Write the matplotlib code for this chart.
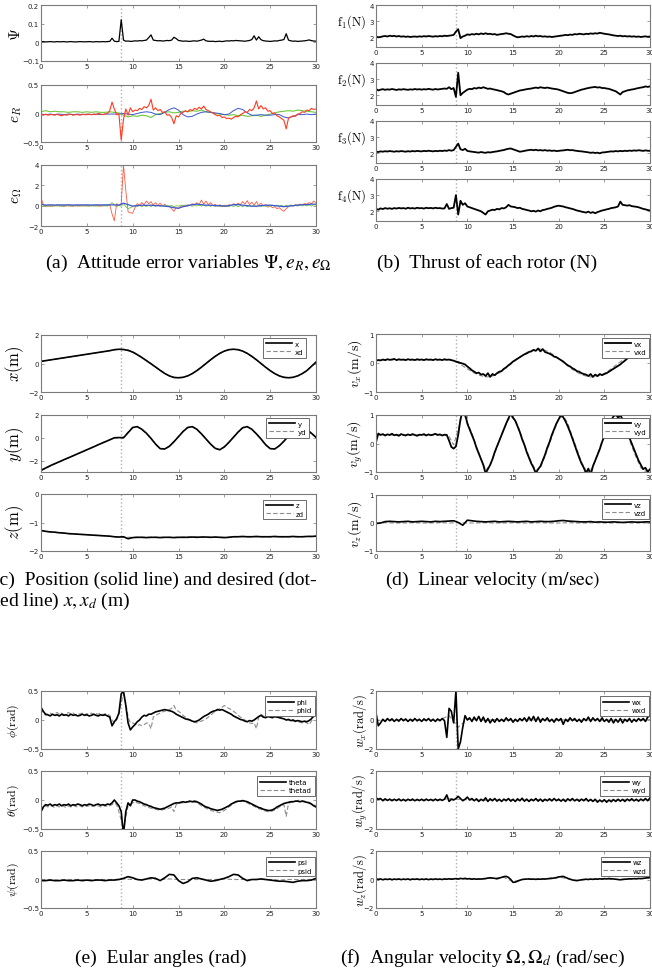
import numpy as np
import matplotlib.pyplot as plt
from matplotlib.ticker import FuncFormatter

plt.rcParams['mathtext.fontset'] = 'cm'
plt.rcParams['font.family'] = 'DejaVu Sans'

T_MARK = 8.75  # dotted vertical line

# ---------------- (a) attitude errors, 0.25 s samples ----------------
psi_err = [0.003,0.004,0.002,0.003,0.004,0.003,0.002,0.004,0.003,0.003,0.004,0.002,0.003,0.004,0.003,0.002,0.003,0.004,0.003,0.003,
           0.003,0.004,0.003,0.002,0.004,0.003,0.003,0.004,0.003,0.004,0.005,0.022,0.006,0.004,0.005,0.121,0.012,0.006,0.007,0.005,
           0.006,0.008,0.007,0.009,0.008,0.01,0.012,0.025,0.04,0.012,0.01,0.008,0.009,0.007,0.008,0.01,0.009,0.012,0.027,0.02,
           0.01,0.008,0.006,0.007,0.006,0.005,0.007,0.008,0.006,0.009,0.012,0.017,0.008,0.006,0.005,0.006,0.004,0.005,0.006,0.004,
           0.006,0.008,0.007,0.009,0.008,0.01,0.009,0.008,0.007,0.006,0.008,0.01,0.015,0.035,0.012,0.03,0.014,0.009,0.007,0.006,
           0.005,0.006,0.008,0.007,0.01,0.012,0.015,0.046,0.012,0.008,0.006,0.007,0.005,0.006,0.007,0.008,0.01,0.013,0.009,0.007,
           0.006]
eR_red = [-0.02,-0.03,-0.01,-0.03,-0.02,-0.02,-0.03,-0.01,-0.03,-0.04,-0.02,-0.03,-0.02,-0.01,-0.03,-0.02,-0.02,-0.03,-0.01,-0.02,
          -0.02,-0.01,-0.02,-0.01,-0.02,0.0,-0.01,-0.02,-0.01,0.0,0.05,0.2,0.08,-0.02,-0.01,-0.47,-0.1,0.08,-0.03,0.1,
          0.03,0.06,0.05,0.09,0.07,0.12,0.1,0.14,0.25,0.06,0.1,0.05,0.07,0.02,0.03,-0.03,-0.02,-0.07,-0.18,-0.04,
          -0.06,0.0,0.02,0.05,0.03,0.07,0.05,0.09,0.07,0.11,0.08,0.13,0.07,0.05,0.03,0.01,-0.02,-0.04,-0.03,-0.07,
          -0.06,-0.09,-0.08,-0.1,-0.07,-0.05,-0.06,-0.02,0.0,0.03,0.02,0.07,0.05,0.1,0.22,0.08,0.14,0.08,0.1,0.04,
          0.05,0.0,0.01,-0.04,-0.06,-0.09,-0.12,-0.27,-0.08,-0.06,-0.04,-0.05,-0.01,0.0,0.03,0.02,0.06,0.05,0.09,0.07,
          0.08]
eW_red = [0.8,0.1,-0.1,0.05,-0.08,0.06,-0.05,0.08,-0.06,0.05,-0.1,0.07,-0.04,0.06,-0.08,0.05,-0.06,0.04,-0.05,0.07,
          -0.06,0.05,-0.04,0.07,-0.05,0.06,-0.07,0.05,-0.04,0.06,0.1,-0.8,-1.5,0.2,0.0,0.2,4.0,1.5,-0.6,-0.7,
          -0.75,-0.2,0.2,0.05,0.3,0.1,0.45,0.2,0.4,0.05,0.3,0.0,0.25,-0.05,0.15,-0.1,-0.05,-0.3,-0.55,-0.2,
          -0.3,-0.05,0.05,-0.1,0.1,0.0,0.2,0.05,0.3,0.1,0.55,0.15,0.45,0.1,0.3,0.0,0.15,-0.05,0.1,-0.1,
          0.05,-0.1,0.1,0.0,0.2,0.05,0.25,0.1,0.4,0.15,0.5,0.1,0.35,0.05,0.4,0.0,0.25,-0.05,0.1,-0.15,
          0.0,-0.2,-0.1,-0.3,-0.2,-0.4,-0.55,-0.3,-0.1,0.05,-0.05,0.1,0.05,0.15,0.1,0.2,0.15,0.3,0.2,0.45,
          0.3]
eW_green = [0.05,-0.1,0.05,-0.08,0.04,-0.1,0.06,-0.05,0.03,-0.08,0.05,-0.06,0.04,-0.09,0.06,-0.05,0.03,-0.07,0.05,-0.06,
            0.04,-0.08,0.05,-0.06,0.03,-0.07,0.05,-0.05,0.04,-0.06,0.1,0.3,0.1,-0.1,0.05,-0.05,0.2,-0.1,-0.3,-0.2,
            -0.1,0.05,-0.08,0.04,-0.1,0.03,-0.09,0.05,-0.1,0.04,-0.07,0.05,-0.08,0.04,-0.06,0.05,-0.05,0.03,-0.12,0.0,
            -0.05,0.05,-0.06,0.07,-0.05,0.06,-0.07,0.08,-0.04,0.06,-0.05,0.07,-0.06,0.05,-0.08,0.04,-0.07,0.05,-0.09,0.03,
            -0.08,0.05,-0.1,0.03,-0.09,0.04,-0.12,0.02,-0.1,0.03,-0.11,0.04,-0.09,0.02,-0.12,0.03,-0.1,0.04,-0.08,0.05,
            -0.07,0.06,-0.05,0.07,-0.06,0.05,-0.08,0.04,-0.06,0.07,-0.04,0.08,-0.05,0.06,-0.04,0.09,-0.03,0.08,-0.05,0.1,
            0.05]
# 0.5 s samples
eR_green = [0.03,0.05,0.03,0.04,0.03,0.03,0.02,0.03,0.03,0.02,0.03,0.02,0.03,0.02,0.02,0.03,0.02,0.01,-0.03,-0.06,
            -0.04,-0.05,-0.03,-0.04,-0.07,-0.02,0.0,0.02,0.03,0.01,0.02,0.04,0.03,0.05,0.04,0.06,0.03,0.02,0.0,-0.01,
            -0.02,-0.03,-0.02,-0.04,-0.03,-0.05,-0.04,-0.03,-0.05,-0.03,-0.01,0.01,0.03,0.04,0.05,0.04,0.06,0.05,0.04,0.03,
            0.02]
eR_blue = [-0.01,-0.02,-0.01,-0.02,-0.01,-0.02,-0.01,-0.02,-0.01,-0.02,-0.01,-0.02,-0.01,-0.02,-0.01,-0.01,-0.01,-0.01,0.0,-0.01,
           -0.02,0.0,0.02,0.03,0.02,-0.01,-0.02,0.02,0.07,0.1,0.06,-0.02,-0.06,-0.05,-0.01,0.02,0.03,0.02,0.01,0.0,
           -0.02,-0.01,0.05,0.09,0.07,0.01,-0.03,-0.03,-0.02,-0.03,-0.03,-0.02,-0.02,-0.06,-0.08,-0.05,-0.02,-0.02,-0.01,-0.02,
           -0.01]
eW_blue = [0.15,0.05,0.08,0.06,0.08,0.07,0.08,0.06,0.08,0.07,0.08,0.06,0.08,0.07,0.08,0.07,0.08,0.05,0.25,0.1,
           -0.05,0.0,0.05,0.03,0.05,0.0,0.0,-0.05,-0.1,-0.2,-0.25,-0.1,0.0,0.1,0.15,0.1,0.05,0.05,0.0,0.0,
           -0.05,0.0,0.1,0.1,0.05,0.0,-0.05,-0.05,0.0,0.05,0.05,0.0,-0.05,-0.1,-0.05,0.0,0.05,0.1,0.1,0.15,
           0.15]

# ---------------- (b) rotor thrust, 0.25 s samples ----------------
f1 = [2.05,2.0,2.02,2.06,2.08,2.05,2.1,2.07,2.09,2.05,2.08,2.04,2.06,2.03,2.05,2.02,2.04,2.05,2.03,2.06,
      2.04,2.07,2.05,2.08,2.06,2.04,2.07,2.05,2.08,2.06,2.1,2.08,2.1,2.12,2.15,2.35,2.5,1.95,2.05,2.1,
      2.18,2.15,2.2,2.17,2.22,2.18,2.24,2.2,2.25,2.2,2.22,2.18,2.2,2.15,2.18,2.2,2.22,2.25,2.22,2.2,
      2.12,2.05,2.0,2.02,2.05,2.03,2.07,2.04,2.08,2.05,2.1,2.06,2.08,2.04,2.06,2.03,2.05,2.02,2.04,2.06,
      2.08,2.1,2.12,2.15,2.13,2.17,2.15,2.2,2.18,2.22,2.2,2.18,2.22,2.2,2.24,2.22,2.25,2.23,2.28,2.25,
      2.22,2.2,2.18,2.15,2.12,2.1,2.08,2.1,2.06,2.08,2.05,2.07,2.04,2.06,2.03,2.05,2.02,2.04,2.06,2.03,
      2.05]
f2 = [2.4,2.3,2.35,2.38,2.34,2.37,2.35,2.39,2.36,2.33,2.37,2.35,2.38,2.36,2.34,2.37,2.35,2.39,2.36,2.38,
      2.35,2.38,2.36,2.4,2.37,2.35,2.39,2.36,2.38,2.4,2.42,2.4,2.5,2.38,2.45,1.9,3.4,2.0,2.15,2.25,
      2.35,2.4,2.38,2.45,2.42,2.48,2.44,2.5,2.45,2.4,2.42,2.38,2.35,2.32,2.28,2.25,2.2,2.1,2.05,2.1,
      2.15,2.2,2.25,2.3,2.32,2.35,2.38,2.4,2.42,2.45,2.48,2.45,2.5,2.47,2.45,2.48,2.45,2.42,2.4,2.38,
      2.35,2.3,2.25,2.2,2.15,2.13,2.15,2.2,2.25,2.3,2.35,2.38,2.42,2.45,2.48,2.5,2.52,2.48,2.5,2.45,
      2.45,2.42,2.4,2.35,2.3,2.25,2.15,2.05,2.2,2.25,2.3,2.33,2.36,2.38,2.42,2.45,2.48,2.5,2.55,2.52,
      2.55]
f3 = [2.1,2.08,2.12,2.1,2.13,2.11,2.14,2.12,2.1,2.13,2.11,2.14,2.12,2.1,2.13,2.11,2.14,2.12,2.15,2.13,
      2.12,2.15,2.13,2.16,2.14,2.12,2.15,2.13,2.16,2.14,2.17,2.15,2.2,2.16,2.2,2.4,2.6,2.25,2.2,2.28,
      2.15,2.12,2.1,2.08,2.06,2.04,2.08,2.05,2.03,2.07,2.05,2.08,2.1,2.12,2.15,2.18,2.2,2.25,2.28,2.3,
      2.25,2.2,2.15,2.1,2.12,2.15,2.18,2.2,2.22,2.19,2.22,2.18,2.2,2.17,2.2,2.16,2.18,2.15,2.17,2.14,
      2.15,2.17,2.18,2.2,2.22,2.19,2.2,2.17,2.15,2.13,2.12,2.1,2.08,2.06,2.03,2.05,2.02,2.04,2.0,2.05,
      2.06,2.08,2.1,2.12,2.11,2.14,2.12,2.15,2.13,2.16,2.14,2.17,2.15,2.18,2.16,2.19,2.17,2.15,2.18,2.16,
      2.15]
f4 = [2.15,2.1,2.18,2.14,2.2,2.16,2.19,2.15,2.2,2.17,2.21,2.18,2.2,2.16,2.22,2.18,2.2,2.17,2.22,2.19,
      2.2,2.17,2.22,2.19,2.21,2.18,2.22,2.19,2.2,2.17,2.18,2.45,2.15,2.2,2.22,3.0,1.8,2.65,2.4,2.5,
      2.3,2.25,2.2,2.15,2.1,2.05,2.0,1.9,1.8,2.0,2.05,2.1,2.08,2.15,2.12,2.2,2.18,2.25,2.4,2.3,
      2.28,2.25,2.2,2.22,2.15,2.12,2.08,2.05,2.0,2.03,1.98,2.05,2.0,2.08,2.1,2.15,2.18,2.22,2.28,2.32,
      2.35,2.32,2.3,2.25,2.22,2.18,2.15,2.1,2.05,2.02,1.98,1.95,1.92,1.98,1.9,1.95,1.88,1.95,2.0,2.05,
      2.08,2.12,2.15,2.2,2.22,2.25,2.3,2.6,2.4,2.38,2.35,2.38,2.32,2.3,2.28,2.25,2.2,2.15,2.12,2.08,
      2.05]

# ---------------- (c) position, 0.5 s samples ----------------
pos_x = [0.15,0.2,0.25,0.3,0.35,0.4,0.45,0.5,0.55,0.6,0.65,0.7,0.75,0.8,0.85,0.9,0.97,1.0,0.98,0.92,
         0.8,0.62,0.42,0.2,-0.02,-0.25,-0.48,-0.7,-0.87,-0.98,-1.0,-0.97,-0.87,-0.71,-0.5,-0.26,0.0,0.26,0.5,0.71,
         0.87,0.97,1.0,0.97,0.87,0.71,0.5,0.26,0.0,-0.26,-0.5,-0.71,-0.87,-0.97,-1.0,-0.97,-0.87,-0.71,-0.5,-0.2,
         0.1]
pos_xd = [0.15,0.2,0.25,0.3,0.35,0.4,0.45,0.5,0.55,0.6,0.65,0.7,0.75,0.8,0.85,0.9,0.95,1.0,1.0,0.95,
          0.83,0.65,0.44,0.22,0.0,-0.24,-0.47,-0.69,-0.86,-0.97,-1.0,-0.97,-0.87,-0.71,-0.5,-0.26,0.0,0.26,0.5,0.71,
          0.87,0.97,1.0,0.97,0.87,0.71,0.5,0.26,0.0,-0.26,-0.5,-0.71,-0.87,-0.97,-1.0,-0.97,-0.87,-0.71,-0.5,-0.22,
          0.08]
pos_y = [-2.85,-2.65,-2.45,-2.27,-2.1,-1.92,-1.75,-1.58,-1.4,-1.23,-1.05,-0.88,-0.7,-0.52,-0.35,-0.18,0.0,0.02,0.0,0.45,
         0.9,0.98,0.75,0.4,-0.05,-0.55,-0.95,-0.98,-0.75,-0.35,0.1,0.55,0.9,0.98,0.75,0.35,-0.1,-0.55,-0.92,-1.05,
         -0.8,-0.4,0.05,0.5,0.88,0.98,0.75,0.35,-0.1,-0.6,-0.95,-0.98,-0.7,-0.3,0.15,0.6,0.92,0.98,0.75,0.4,
         0.05]
pos_yd = [-2.9,-2.7,-2.5,-2.3,-2.12,-1.94,-1.76,-1.58,-1.4,-1.22,-1.04,-0.86,-0.68,-0.5,-0.33,-0.16,0.0,0.0,0.05,0.5,
          0.92,0.98,0.72,0.36,-0.08,-0.58,-0.96,-0.97,-0.72,-0.32,0.12,0.58,0.92,0.97,0.72,0.32,-0.12,-0.58,-0.94,-1.03,
          -0.78,-0.38,0.08,0.52,0.9,0.97,0.72,0.32,-0.12,-0.62,-0.96,-0.97,-0.68,-0.28,0.18,0.62,0.93,0.97,0.72,0.36,
          0.02]
pos_z = [-1.28,-1.31,-1.33,-1.34,-1.36,-1.37,-1.39,-1.4,-1.41,-1.42,-1.43,-1.44,-1.45,-1.46,-1.47,-1.48,-1.5,-1.51,-1.5,-1.57,
         -1.53,-1.52,-1.52,-1.53,-1.52,-1.52,-1.53,-1.52,-1.52,-1.53,-1.52,-1.52,-1.52,-1.51,-1.52,-1.51,-1.51,-1.52,-1.51,-1.52,
         -1.53,-1.52,-1.5,-1.5,-1.49,-1.5,-1.5,-1.49,-1.5,-1.5,-1.5,-1.49,-1.5,-1.5,-1.5,-1.49,-1.5,-1.5,-1.49,-1.49,
         -1.48]
# 1 s samples
pos_zd = [-1.28,-1.33,-1.36,-1.39,-1.41,-1.43,-1.45,-1.47,-1.5,-1.52,-1.52,-1.52,-1.52,-1.52,-1.52,-1.52,
          -1.51,-1.51,-1.52,-1.52,-1.52,-1.5,-1.5,-1.5,-1.5,-1.5,-1.5,-1.5,-1.5,-1.49,-1.48]

# ---------------- (d) linear velocity ----------------
vel_x = [0.08,0.1,0.09,0.12,0.1,0.13,0.11,0.12,0.14,0.1,0.13,0.11,0.12,0.1,0.13,0.11,0.12,0.1,0.13,0.11,
         0.12,0.1,0.13,0.11,0.12,0.1,0.13,0.11,0.12,0.1,0.13,0.11,0.12,0.1,0.08,0.05,0.03,0.0,-0.02,-0.05,
         -0.12,-0.18,-0.25,-0.3,-0.35,-0.33,-0.4,-0.38,-0.45,-0.35,-0.48,-0.38,-0.42,-0.35,-0.3,-0.28,-0.2,-0.15,-0.08,-0.02,
         0.05,0.1,0.15,0.2,0.25,0.3,0.33,0.38,0.4,0.45,0.42,0.5,0.4,0.48,0.38,0.35,0.32,0.28,0.22,0.2,
         0.15,0.1,0.05,-0.02,-0.08,-0.12,-0.18,-0.22,-0.28,-0.3,-0.35,-0.38,-0.4,-0.45,-0.38,-0.48,-0.4,-0.45,-0.38,-0.42,
         -0.38,-0.35,-0.3,-0.25,-0.2,-0.15,-0.1,-0.05,0.02,0.08,0.15,0.2,0.25,0.3,0.33,0.36,0.4,0.42,0.45,0.46,
         0.45]
vel_y = [0.05,0.35,0.3,0.33,0.28,0.32,0.3,0.34,0.29,0.31,0.27,0.33,0.3,0.28,0.32,0.29,0.33,0.3,0.27,0.31,
         0.3,0.33,0.28,0.32,0.29,0.31,0.34,0.3,0.32,0.28,0.31,0.3,0.1,-0.12,-0.18,-0.1,0.3,0.85,1.15,1.05,
         0.7,0.5,0.3,0.1,-0.15,-0.35,-0.55,-0.75,-1.05,-0.9,-0.75,-0.55,-0.3,-0.1,0.1,0.3,0.5,0.7,0.88,1.05,
         0.9,0.8,0.6,0.4,0.15,-0.05,-0.3,-0.5,-0.7,-0.85,-1.05,-0.9,-0.8,-0.6,-0.4,-0.15,0.05,0.3,0.5,0.7,
         0.85,1.0,0.92,0.78,0.6,0.4,0.18,-0.05,-0.28,-0.5,-0.7,-0.85,-1.05,-0.88,-1.1,-0.8,-0.6,-0.4,-0.2,0.05,
         0.25,0.45,0.65,0.82,0.95,1.05,0.9,1.0,0.85,0.65,0.45,0.2,0.0,-0.2,-0.4,-0.6,-0.75,-0.9,-0.85,-1.0,
         -0.9]
vel_xd = [0.1,0.1,0.1,0.11,0.11,0.11,0.11,0.11,0.11,0.11,0.11,0.11,0.11,0.11,0.11,0.11,0.1,0.08,0.0,-0.1,
          -0.2,-0.3,-0.38,-0.44,-0.48,-0.47,-0.42,-0.34,-0.22,-0.1,0.02,0.15,0.26,0.36,0.43,0.48,0.48,0.44,0.37,0.27,
          0.15,0.03,-0.1,-0.22,-0.32,-0.4,-0.45,-0.48,-0.47,-0.43,-0.36,-0.26,-0.14,-0.02,0.1,0.22,0.32,0.4,0.45,0.48,
          0.47]
vel_yd = [0.3,0.3,0.3,0.3,0.3,0.3,0.3,0.3,0.3,0.3,0.3,0.3,0.3,0.3,0.3,0.3,0.25,-0.05,0.5,1.1,
          0.75,0.35,-0.1,-0.55,-0.95,-0.75,-0.35,0.1,0.5,0.85,0.95,0.65,0.2,-0.25,-0.65,-0.95,-0.85,-0.45,0.0,0.45,
          0.85,0.98,0.7,0.25,-0.2,-0.65,-0.95,-0.95,-0.6,-0.15,0.3,0.7,0.95,0.98,0.75,0.35,-0.1,-0.5,-0.85,-0.98,
          -0.9]
vel_z = [-0.02,0.0,0.05,0.06,0.05,0.04,0.05,0.06,0.04,0.05,0.06,0.05,0.04,0.06,0.05,0.06,0.07,0.08,0.02,-0.08,
         0.1,0.08,0.06,0.05,0.04,0.05,0.06,0.04,0.05,0.06,0.05,0.04,0.05,0.06,0.04,0.05,0.06,0.05,0.05,0.06,
         0.08,0.09,0.07,0.06,0.05,0.04,0.04,0.05,0.03,0.04,0.03,0.03,0.04,0.03,0.02,0.03,0.04,0.03,0.03,0.04,
         0.04]
vel_zd = [0.0,0.01,0.0,0.0,0.01,0.0,0.0,0.01,0.0,0.01,0.0,0.0,0.01,0.0,0.0,0.01,
          0.0,0.0,0.01,0.0,0.0,0.01,0.0,0.0,0.01,0.0,0.0,0.01,0.0,0.0,0.01]

# ---------------- (e) Euler angles ----------------
phi = [0.22,0.15,0.1,0.09,0.07,0.1,0.08,0.09,0.07,0.1,0.08,0.09,0.07,0.1,0.08,0.09,0.07,0.08,0.1,0.08,
       0.09,0.07,0.08,0.1,0.08,0.07,0.09,0.08,0.09,0.07,0.05,-0.1,-0.03,0.02,0.12,0.45,0.5,0.25,-0.05,-0.17,
       -0.12,-0.08,-0.03,0.0,0.05,0.08,0.07,0.1,0.1,0.12,0.14,0.15,0.16,0.17,0.18,0.17,0.16,0.15,0.13,0.1,
       0.08,0.06,0.04,0.02,0.01,0.0,-0.02,-0.03,-0.02,0.0,0.03,0.06,0.08,0.1,0.13,0.15,0.16,0.18,0.17,0.18,
       0.16,0.14,0.12,0.1,0.07,0.05,0.03,0.01,0.0,-0.02,-0.03,-0.01,-0.02,0.0,0.03,0.06,0.08,0.05,0.04,0.06,
       0.05,0.04,0.06,0.05,0.04,0.03,0.02,0.0,0.01,-0.01,0.0,-0.02,-0.01,-0.02,-0.03,-0.02,-0.03,-0.01,0.02,0.08,
       0.15]
phid = [0.2,0.12,0.08,0.1,0.12,0.09,0.11,0.13,0.1,0.12,0.09,0.11,0.13,0.1,0.12,0.09,0.11,0.1,0.12,0.09,
        0.11,0.1,0.12,0.09,0.11,0.1,0.12,0.09,0.11,0.1,0.08,0.0,-0.05,0.0,0.1,0.3,0.45,0.3,0.05,-0.05,
        -0.05,-0.07,-0.1,-0.08,-0.1,-0.08,-0.05,-0.06,-0.15,0.05,0.08,0.1,0.12,0.14,0.15,0.17,0.18,0.2,0.25,0.17,
        0.15,0.12,0.08,0.05,0.03,0.0,-0.02,-0.04,-0.05,-0.03,-0.02,0.0,0.02,0.05,0.08,0.12,0.14,0.17,0.2,0.22,
        0.25,0.22,0.2,0.18,0.15,0.12,0.08,0.05,0.03,0.0,-0.03,-0.05,-0.06,-0.05,-0.15,0.05,0.1,0.07,0.05,0.06,
        0.06,0.05,0.06,0.04,0.05,0.03,0.02,0.01,0.0,-0.01,-0.02,-0.03,-0.02,-0.04,-0.05,-0.03,-0.05,-0.08,-0.02,0.05,
        0.12]
theta = [-0.2,-0.12,-0.08,-0.09,-0.07,-0.1,-0.08,-0.09,-0.07,-0.1,-0.08,-0.09,-0.07,-0.1,-0.08,-0.09,-0.07,-0.08,-0.1,-0.08,
         -0.09,-0.07,-0.08,-0.1,-0.08,-0.07,-0.09,-0.08,-0.09,-0.07,-0.08,-0.05,0.0,-0.05,-0.1,-0.2,-0.6,-0.2,-0.05,-0.1,
         0.0,0.0,-0.02,-0.03,-0.05,-0.07,-0.08,-0.1,-0.11,-0.13,-0.14,-0.15,-0.16,-0.15,-0.14,-0.12,-0.1,-0.08,-0.06,-0.05,
         -0.05,-0.04,-0.03,-0.04,-0.03,-0.02,-0.03,-0.02,-0.03,-0.05,-0.07,-0.1,-0.12,-0.13,-0.15,-0.16,-0.17,-0.18,-0.17,-0.16,
         -0.14,-0.12,-0.1,-0.07,-0.05,-0.03,-0.02,-0.02,-0.01,-0.02,-0.03,-0.05,-0.07,-0.09,-0.11,-0.13,-0.14,-0.16,-0.17,-0.18,
         -0.18,-0.17,-0.15,-0.12,-0.1,-0.08,-0.06,-0.05,-0.04,-0.03,-0.03,-0.02,-0.02,-0.03,-0.02,-0.03,-0.04,-0.05,-0.07,-0.1,
         -0.12]
thetad = [-0.2,-0.14,-0.1,-0.12,-0.09,-0.11,-0.13,-0.1,-0.12,-0.09,-0.11,-0.13,-0.1,-0.12,-0.09,-0.11,-0.12,-0.1,-0.12,-0.1,
          -0.11,-0.1,-0.12,-0.09,-0.11,-0.1,-0.12,-0.09,-0.11,-0.1,-0.1,-0.08,-0.05,-0.08,-0.2,-0.35,-0.5,-0.3,-0.1,-0.08,
          -0.05,-0.03,-0.05,-0.06,-0.08,-0.1,-0.11,-0.13,-0.14,-0.15,-0.16,-0.17,-0.18,-0.17,-0.16,-0.15,-0.14,-0.12,-0.2,-0.08,
          -0.07,-0.05,-0.05,-0.04,-0.03,-0.04,-0.03,-0.04,-0.05,-0.07,-0.1,-0.12,-0.14,-0.16,-0.18,-0.19,-0.2,-0.21,-0.22,-0.2,
          -0.18,-0.15,-0.12,-0.09,-0.06,-0.04,-0.03,-0.02,-0.02,-0.03,-0.05,-0.07,-0.09,-0.11,-0.13,-0.15,-0.16,-0.18,-0.19,-0.2,
          -0.2,-0.19,-0.17,-0.15,-0.12,-0.1,-0.08,-0.28,-0.06,-0.04,-0.03,-0.02,-0.01,0.0,-0.01,-0.02,-0.03,-0.04,-0.06,-0.08,
          -0.1]
psi = [-0.02,-0.02,-0.01,-0.02,-0.02,-0.01,-0.02,-0.02,-0.01,-0.02,-0.01,-0.02,-0.01,-0.01,-0.02,-0.01,-0.01,0.0,0.02,0.05,
       0.03,0.0,-0.01,0.01,0.03,0.02,-0.02,0.03,0.09,0.08,-0.02,-0.07,-0.04,0.02,0.03,0.01,-0.01,-0.03,-0.02,0.0,
       0.02,0.05,0.09,0.08,0.02,-0.02,0.0,0.0,0.01,0.0,-0.01,-0.02,-0.03,-0.03,-0.04,-0.05,-0.03,-0.02,-0.02,-0.01,
       0.02]
psid = [0.0,0.0,-0.01,0.0,0.0,-0.01,0.0,0.0,0.0,0.01,0.0,0.0,0.01,0.0,0.01,0.0,
        0.0,0.0,0.0,0.0,0.01,0.0,0.0,0.0,0.0,0.0,-0.01,0.0,0.0,0.0,0.0]

# ---------------- (f) angular velocity ----------------
wx = [0.5,-0.4,-0.2,0.05,-0.1,0.1,-0.05,0.08,-0.1,0.05,-0.08,0.1,-0.05,0.07,-0.1,0.05,-0.08,0.1,-0.06,0.05,
      -0.1,0.08,-0.05,0.1,-0.08,0.05,-0.1,0.07,-0.05,0.1,-0.05,-1.2,0.8,0.6,-0.2,2.0,-2.0,-1.5,-0.5,0.3,
      0.0,0.15,-0.1,0.2,-0.05,0.25,-0.1,0.2,-0.15,0.1,-0.2,0.05,-0.15,0.1,-0.1,0.05,-0.1,0.15,-0.05,0.1,
      -0.15,0.05,-0.1,0.1,-0.05,0.15,-0.1,0.2,-0.05,0.25,-0.1,0.2,-0.15,0.1,-0.05,0.15,-0.1,0.05,-0.15,0.1,
      -0.05,0.1,-0.3,0.05,-0.1,0.15,-0.05,0.1,-0.1,0.05,-0.15,0.1,-0.05,0.2,-0.1,0.15,-0.05,0.1,-0.1,0.15,
      -0.1,0.05,-0.15,0.1,-0.2,0.05,-0.15,0.1,-0.2,0.05,-0.1,0.1,-0.15,0.05,-0.1,0.1,-0.05,0.1,-0.1,0.2,
      0.3]
wy = [0.15,0.05,0.1,-0.05,0.08,-0.03,0.06,-0.05,0.05,-0.04,0.07,-0.05,0.04,-0.06,0.05,-0.03,0.06,-0.05,0.04,-0.04,
      0.05,-0.05,0.06,-0.03,0.04,-0.05,0.06,-0.04,0.05,-0.03,0.06,0.35,-0.1,0.05,0.0,0.1,0.25,0.1,-0.05,0.05,
      0.2,0.0,0.1,-0.05,0.08,-0.1,0.05,-0.05,0.15,-0.1,0.08,-0.05,0.1,-0.08,0.05,-0.1,0.06,-0.05,0.1,-0.08,
      0.05,-0.1,0.08,-0.05,0.12,-0.08,0.06,-0.1,0.05,-0.05,0.1,-0.08,0.06,-0.1,0.05,-0.05,0.08,-0.06,0.1,-0.05,
      0.06,-0.08,0.05,-0.1,0.08,-0.05,0.1,-0.06,0.05,-0.08,0.06,-0.05,0.1,-0.08,0.04,-0.1,0.05,-0.15,0.0,-0.12,
      0.02,-0.15,0.0,-0.12,0.03,-0.1,0.05,-0.08,0.04,-0.1,0.06,-0.05,0.08,-0.06,0.05,-0.08,0.06,-0.05,0.1,-0.05,
      0.15]
wz = [0.05,0.0,0.04,-0.02,0.03,0.0,0.04,-0.02,0.03,0.0,0.04,-0.01,0.03,0.0,0.04,-0.02,0.03,0.01,0.04,-0.01,
      0.03,0.0,0.04,-0.01,0.03,0.0,0.04,0.01,0.03,0.0,0.04,0.02,0.05,0.02,0.04,0.06,0.03,0.08,0.05,0.08,
      0.04,0.06,0.02,0.05,0.02,0.04,0.03,0.05,0.07,0.1,0.12,0.1,0.08,0.05,0.1,0.15,0.2,0.22,0.15,0.0,
      -0.2,-0.18,-0.12,-0.05,0.0,0.02,0.03,0.04,0.02,0.03,0.01,0.03,0.02,0.04,0.03,0.05,0.06,0.08,0.1,0.12,
      0.18,0.2,0.22,0.15,0.08,0.02,-0.03,-0.06,-0.08,-0.05,-0.02,0.0,0.02,0.0,0.03,0.01,0.04,0.02,0.05,0.03,
      0.06,0.04,0.07,0.05,0.04,0.02,0.0,-0.02,0.0,0.02,0.03,0.05,0.04,0.06,0.05,0.07,0.06,0.08,0.1,0.12,
      0.15]
wxd = [0.0,-0.05,0.02,0.0,0.03,-0.02,0.0,0.02,0.3,-0.5,0.05,0.02,-0.02,0.03,0.0,-0.03,
       0.02,0.0,0.03,-0.02,0.0,0.02,-0.03,0.0,0.02,-0.02,0.0,0.03,-0.02,0.0,0.02]
wyd = [0.05,0.0,0.02,0.0,-0.02,0.0,0.02,0.0,0.1,0.05,0.02,0.0,-0.02,0.0,0.02,0.0,
       -0.02,0.0,0.02,0.0,-0.02,0.0,0.02,0.0,-0.05,-0.05,0.0,0.02,0.0,-0.02,0.05]
wzd = [0.02,0.0,0.02,0.0,0.02,0.0,0.02,0.0,0.03,0.05,0.03,0.02,0.05,0.1,0.15,-0.15,
       0.0,0.02,0.02,0.1,0.18,0.05,-0.06,0.0,0.02,0.04,0.0,0.02,0.04,0.06,0.1]

# ---------------------------------------------------------------
W, H = 652, 978
fig = plt.figure(figsize=(W / 100, H / 100), dpi=100)

def tgrid(v, step):
    return np.arange(len(v)) * step

def rect(x0, x1, y0, y1):
    return [x0 / W, 1 - y1 / H, (x1 - x0) / W, (y1 - y0) / H]

fmt = FuncFormatter(lambda v, p: ('%g' % v).replace('-', '\u2212'))

def panel(r, ylim, yticks):
    ax = fig.add_axes(r)
    ax.set_xlim(0, 30)
    ax.set_ylim(*ylim)
    ax.set_xticks(range(0, 31, 5))
    ax.set_yticks(yticks)
    ax.xaxis.set_major_formatter(fmt)
    ax.yaxis.set_major_formatter(fmt)
    ax.tick_params(direction='in', length=2, width=0.5, labelsize=5, pad=1.5,
                   top=True, right=True, color='#777777', labelcolor='#222222')
    for s in ax.spines.values():
        s.set_color('#7a7a7a')
        s.set_linewidth(0.8)
    ax.axvline(T_MARK, color='#b0b0b0', ls=':', lw=1.0, zorder=0)
    return ax

def ylab(x, y, s, size, rot=90, ha='center'):
    fig.text(x / W, 1 - y / H, s, rotation=rot, ha=ha, va='center', fontsize=size)

def pair(ax, act, des, step_a, step_d, names, anchor, lw=1.2):
    ax.plot(tgrid(des, step_d), des, color='#8c8c8c', ls='--', lw=0.8, dashes=(4, 2))
    ax.plot(tgrid(act, step_a), act, color='black', lw=lw)
    leg = ax.legend(handles=[ax.lines[-1], ax.lines[-2]], labels=names, loc='upper right',
                    bbox_to_anchor=anchor, borderaxespad=0, fontsize=5, handlelength=3.8,
                    handletextpad=0.4, borderpad=0.4, labelspacing=0.3, fancybox=False,
                    edgecolor='#555555', framealpha=1)
    leg.get_frame().set_linewidth(0.6)

RED, GREEN, BLUE = '#ff3a1e', '#6cc83a', '#3a55d8'
LX, LX1 = 41, 316
RX, RX1 = 376, 650

# (a)
ax = panel(rect(LX, LX1, 6, 62), (-0.1, 0.2), [-0.1, 0, 0.1, 0.2])
ax.plot(tgrid(psi_err, 0.25), psi_err, color='black', lw=0.9)
ylab(16, 34, r'$\Psi$', 11)
ax = panel(rect(LX, LX1, 86, 143), (-0.5, 0.5), [-0.5, 0, 0.5])
ax.plot(tgrid(eR_green, 0.5), eR_green, color=GREEN, lw=0.8)
ax.plot(tgrid(eR_blue, 0.5), eR_blue, color=BLUE, lw=0.7)
ax.plot(tgrid(eR_red, 0.25), eR_red, color=RED, lw=0.8)
ylab(16, 114, r'$e_R$', 11)
ax = panel(rect(LX, LX1, 166, 227), (-2, 4), [-2, 0, 2, 4])
ax.plot(tgrid(eW_red, 0.25), eW_red, color=RED, lw=0.6, alpha=0.85)
ax.plot(tgrid(eW_green, 0.25), eW_green, color=GREEN, lw=0.6)
ax.plot(tgrid(eW_blue, 0.5), eW_blue, color=BLUE, lw=0.9)
ylab(16, 196, r'$e_\Omega$', 11)

# (b)
for k, (f, (y0, y1)) in enumerate(zip([f1, f2, f3, f4], [(6, 48), (64, 106), (122, 164), (180, 222)])):
    ax = panel(rect(RX, RX1, y0, y1), (1.4, 4), [2, 3, 4])
    ax.plot(tgrid(f, 0.25), f, color='black', lw=1.3)
    ylab(366, y0 + 16.2, r'$\mathrm{f_%d(N)}$' % (k + 1), 9, rot=0, ha='right')

# (c)
ax = panel(rect(LX, LX1, 336, 393), (-2, 2), [-2, 0, 2])
pair(ax, pos_x, pos_xd, 0.5, 0.5, ['x', 'xd'], (0.964, 0.947))
ylab(15, 364, r'$x(\mathrm{m})$', 12)
ax = panel(rect(LX, LX1, 416, 473), (-3, 2), [-2, 0, 2])
pair(ax, pos_y, pos_yd, 0.5, 0.5, ['y', 'yd'], (0.975, 0.947))
ylab(15, 444, r'$y(\mathrm{m})$', 12)
ax = panel(rect(LX, LX1, 495, 552), (-2, 0), [-2, -1, 0])
pair(ax, pos_z, pos_zd, 0.5, 1.0, ['z', 'zd'], (0.964, 0.9))
ylab(15, 523, r'$z(\mathrm{m})$', 12)

# (d)
ax = panel(rect(RX, RX1, 335, 393), (-1, 1), [-1, 0, 1])
pair(ax, vel_x, vel_xd, 0.25, 0.5, ['vx', 'vxd'], (0.997, 0.93), lw=1.3)
ylab(355, 364, r'$v_x(\mathrm{m/s})$', 10)
ax = panel(rect(RX, RX1, 416, 473), (-1, 1), [-1, 0, 1])
pair(ax, vel_y, vel_yd, 0.25, 0.5, ['vy', 'vyd'], (0.997, 0.947), lw=1.3)
ylab(355, 444, r'$v_y(\mathrm{m/s})$', 10)
ax = panel(rect(RX, RX1, 496, 552), (-1, 1), [-1, 0, 1])
pair(ax, vel_z, vel_zd, 0.5, 1.0, ['vz', 'vzd'], (0.997, 0.93))
ylab(355, 524, r'$v_z(\mathrm{m/s})$', 10)

# (e)
ax = panel(rect(LX, LX1, 692, 750), (-0.5, 0.5), [-0.5, 0, 0.5])
pair(ax, phi, phid, 0.25, 0.25, ['phi', 'phid'], (0.996, 0.91))
ylab(13, 721, r'$\phi(\mathrm{rad})$', 8.5)
ax = panel(rect(LX, LX1, 772, 830), (-0.5, 0.5), [-0.5, 0, 0.5])
pair(ax, theta, thetad, 0.25, 0.25, ['theta', 'thetad'], (0.996, 0.91))
ylab(13, 801, r'$\theta(\mathrm{rad})$', 8.5)
ax = panel(rect(LX, LX1, 852, 909), (-0.5, 0.5), [-0.5, 0, 0.5])
pair(ax, psi, psid, 0.5, 1.0, ['psi', 'psid'], (0.996, 0.9))
ylab(13, 880, r'$\psi(\mathrm{rad})$', 8.5)

# (f)
ax = panel(rect(RX, RX1, 692, 750), (-2, 2), [-2, 0, 2])
pair(ax, wx, wxd, 0.25, 1.0, ['wx', 'wxd'], (0.997, 0.91))
ylab(360, 721, r'$w_x(\mathrm{rad/s})$', 9)
ax = panel(rect(RX, RX1, 772, 830), (-2, 2), [-2, 0, 2])
pair(ax, wy, wyd, 0.25, 1.0, ['wy', 'wyd'], (0.997, 0.91))
ylab(360, 801, r'$w_y(\mathrm{rad/s})$', 9)
ax = panel(rect(RX, RX1, 852, 909), (-2, 2), [-2, 0, 2])
pair(ax, wz, wzd, 0.25, 1.0, ['wz', 'wzd'], (0.997, 0.9))
ylab(360, 880, r'$w_z(\mathrm{rad/s})$', 9)

# captions
cap = dict(fontsize=14, family='Liberation Serif', math_fontfamily='stix', va='center')
fig.text(188 / W, 1 - 263 / H, r'(a)  Attitude error variables $\Psi, e_R, e_\Omega$', ha='center', **cap)
fig.text(487 / W, 1 - 263 / H, '(b)  Thrust of each rotor (N)', ha='center', **cap)
fig.text(-7 / W, 1 - 580 / H, '(c)  Position (solid line) and desired (dot-', ha='left', **cap)
fig.text(-6 / W, 1 - 601 / H, r'ted line) $x, x_d$ (m)', ha='left', **cap)
fig.text(493 / W, 1 - 580 / H, r'(d)  Linear velocity $(\mathrm{m/sec})$', ha='center', **cap)
fig.text(161 / W, 1 - 958 / H, '(e)  Eular angles (rad)', ha='center', **cap)
fig.text(340 / W, 1 - 958 / H, r'(f)  Angular velocity $\Omega, \Omega_d$ (rad/sec)', ha='left', **cap)

fig.savefig('out.png', dpi=100)
